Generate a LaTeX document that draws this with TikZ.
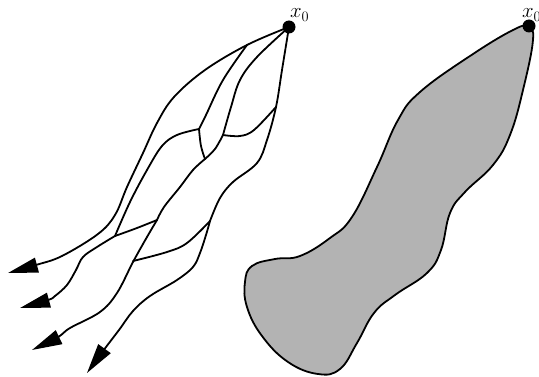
\documentclass[tikz,border=0pt]{standalone}
\usepackage{xcolor}
\definecolor{cLine}{HTML}{000000}
\definecolor{cFill}{HTML}{B3B3B3}
\usepackage{tikz}
\usetikzlibrary{positioning,arrows.meta}
\tikzset{
  path-line/.style={draw=cLine,line width=1.8pt,line cap=round,line join=round},
  path-arrow/.style={path-line,-{Triangle[length=30pt,width=15pt]}},
  node-dot/.style={circle,fill=cLine,inner sep=0pt,minimum size=13pt},
  node-label/.style={font=\huge,inner sep=0pt,anchor=base west},
  region-fill/.style={fill=cFill,draw=cLine,line width=1.8pt},
}

\begin{document}
\begin{tikzpicture}[x=1pt,y=-1pt]
  \useasboundingbox (0,0) rectangle (539,377);
  % branching paths from x_0
  \coordinate (root) at (289,27);
  \coordinate (j1) at (247,45);
  \coordinate (j2) at (199,129);
  \coordinate (j3) at (115,236);
  \coordinate (j4) at (205,159);
  \coordinate (j5) at (223,135);
  \coordinate (j6) at (276,107);
  \coordinate (j7) at (157,220);
  \coordinate (j8) at (210,221);
  \coordinate (loose) at (133,261);
  \draw[path-arrow] plot[smooth,tension=0.6] coordinates {(root) (j1) (205,70) (174,97)
    (157,123) (143,153) (127,187) (115,215) (98,234) (62,256) (36,265) (8,273)};
  \draw[path-line] plot[smooth,tension=0.6] coordinates {(j1) (223,80) (206,115) (j2)};
  \draw[path-line] plot[smooth,tension=0.6] coordinates {(j2) (177,135) (162,146)
    (147,170) (130,202) (j3)};
  \draw[path-line] plot[smooth,tension=0.6] coordinates {(j2) (201,146) (j4)};
  \draw[path-line] plot[smooth,tension=0.6] coordinates {(root) (257,57) (240,80)
    (231,107) (j5)};
  \draw[path-line] plot[smooth,tension=0.6] coordinates {(j5) (240,136) (254,130) (j6)};
  \draw[path-line] plot[smooth,tension=0.6] coordinates {(j5) (215,149) (j4)};
  \draw[path-line] plot[smooth,tension=0.6] coordinates {(j4) (193,170) (180,187)
    (164,207) (j7)};
  \draw[path-line] plot[smooth,tension=0.6] coordinates {(j7) (137,228) (j3)};
  \draw[path-arrow] plot[smooth,tension=0.6] coordinates {(j7) (147,237) (133,262)
    (117,293) (100,312) (70,328) (58,337) (32,350)};
  \draw[path-arrow] plot[smooth,tension=0.6] coordinates {(j3) (97,247) (83,257)
    (76,270) (67,285) (55,296) (48,300) (20,308)};
  \draw[path-line] plot[smooth,tension=0.6] coordinates {(root) (282,70) (j6)
    (267,140) (257,163) (233,182) (220,198) (j8)};
  \draw[path-line] plot[smooth,tension=0.6] coordinates {(j8) (187,243) (167,252) (loose)};
  \draw[path-arrow] plot[smooth,tension=0.6] coordinates {(j8) (206,235) (200,253)
    (193,267) (177,280) (150,296) (133,311) (119,330) (103,351) (87,373)};
  \node[node-dot] (dotL) at (root) {};
  \node[node-label] (lblL) at (290,18) {$x_0$};
  % region reached from x_0
  \filldraw[region-fill] plot[smooth cycle,tension=0.7] coordinates {(528,27) (533,40)
    (523,90) (510,135) (493,165) (465,192) (450,213) (441,250) (427,273) (395,295)
    (374,313) (357,343) (340,369) (318,374) (288,362) (262,336) (247,307) (245,282)
    (252,266) (275,259) (300,256) (330,238) (352,217) (377,167) (398,120) (420,92)
    (470,56) (513,30)};
  \node[node-dot] (dotR) at (529,26) {};
  \node[node-label] (lblR) at (522,18) {$x_0$};
\end{tikzpicture}
\end{document}
